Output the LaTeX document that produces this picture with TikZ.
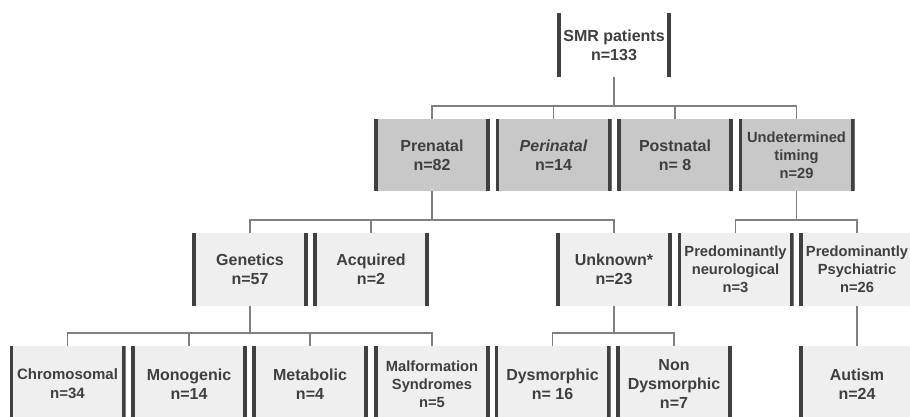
\documentclass[tikz,border=0pt]{standalone}
\usepackage{fontspec}
\setmainfont{Liberation Sans}
\definecolor{txt}{HTML}{3F3F3F}
\definecolor{barc}{HTML}{404040}
\definecolor{midgray}{HTML}{C8C8C8}
\definecolor{lightgray}{HTML}{EFEFEF}
\definecolor{linec}{HTML}{808080}
\begin{document}
\begin{tikzpicture}[x=1pt,y=-1pt,
  box/.style={rectangle, inner sep=0pt, minimum width=116pt, minimum height=72pt,
    align=center, text=txt, font=\bfseries\fontsize{16}{19}\selectfont,
    path picture={
      \fill[barc] (path picture bounding box.south west) rectangle ([xshift=3.6pt]path picture bounding box.north west);
      \fill[barc] ([xshift=-3.6pt]path picture bounding box.south east) rectangle (path picture bounding box.north east);
    }},
  topbox/.style={box, fill=white, minimum width=114pt, minimum height=64pt},
  lvA/.style={box, fill=midgray},
  lvB/.style={box, fill=lightgray, minimum height=73pt},
  lvC/.style={box, fill=lightgray, minimum height=76pt},
  small/.style={font=\bfseries\fontsize{14.7}{18}\selectfont},
  conn/.style={draw=linec, line width=1.3pt}
]
\useasboundingbox (0,0) rectangle (910,417);

\coordinate (b1) at (0,106);
\coordinate (b2) at (0,220);
\coordinate (b3) at (0,333);

\node[topbox] (smr) at (614,45) {SMR patients\\n=133};

\node[lvA] (pre)  at (432,155) {Prenatal\\n=82};
\node[lvA] (peri) at (553.5,155) {\itshape Perinatal\\n=14};
\node[lvA] (post) at (675,155) {Postnatal\\n= 8};
\node[lvA, small] (und) at (796.5,155) {Undetermined\\timing\\n=29};

\node[lvB] (gen) at (250,269.5) {Genetics\\n=57};
\node[lvB] (acq) at (371,269.5) {Acquired\\n=2};
\node[lvB] (unk) at (614,269.5) {Unknown*\\n=23};
\node[lvB, small] (neu) at (735.5,269.5) {Predominantly\\neurological\\n=3};
\node[lvB, small] (psy) at (857,269.5) {Predominantly\\Psychiatric\\n=26};

\node[lvC, font=\bfseries\fontsize{15}{19}\selectfont] (chr) at (67.5,384) {Chromosomal\\n=34};
\node[lvC] (mono) at (189,384) {Monogenic\\n=14};
\node[lvC] (meta) at (310,384) {Metabolic\\n=4};
\node[lvC, small] (malf) at (432,384) {Malformation\\Syndromes\\n=5};
\node[lvC] (dys)  at (552.5,384) {Dysmorphic\\n= 16};
\node[lvC] (ndys) at (674,384) {Non\\Dysmorphic\\n=7};
\node[lvC] (aut)  at (857,384) {Autism\\n=24};

\foreach \c in {pre,peri,post,und}
  \draw[conn] (smr.south) -- (smr.south |- b1) -| (\c.north);
\foreach \c in {gen,acq,unk}
  \draw[conn] (pre.south) -- (pre.south |- b2) -| (\c.north);
\foreach \c in {neu,psy}
  \draw[conn] (und.south) -- (und.south |- b2) -| (\c.north);
\foreach \c in {chr,mono,meta,malf}
  \draw[conn] (gen.south) -- (gen.south |- b3) -| (\c.north);
\foreach \c in {dys,ndys}
  \draw[conn] (unk.south) -- (unk.south |- b3) -| (\c.north);
\draw[conn] (psy.south) -- (aut.north);
\end{tikzpicture}
\end{document}
